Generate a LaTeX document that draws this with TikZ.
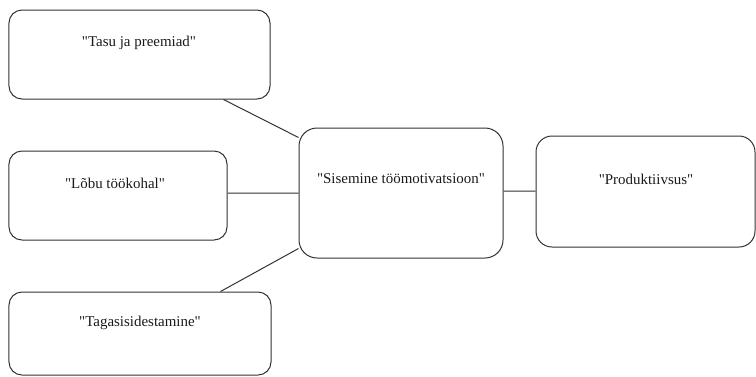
\documentclass[tikz,border=0pt]{standalone}
\usepackage{fontspec}
\newfontfamily\lserif{Liberation Serif}
\begin{document}
\begin{tikzpicture}[x=1bp,y=-1bp,
  boxnode/.style={draw=black!80, line width=1bp, rounded corners=13bp, inner sep=0pt, rectangle},
  txt/.style={font=\lserif\fontsize{15}{18}\selectfont, inner sep=0pt, text=black!90},
  conn/.style={draw=black!80, line width=1bp}]
\useasboundingbox (0,0) rectangle (756,376);
% boxes
\node[boxnode, minimum width=261bp, minimum height=89bp] (b1) at (139.5,54.5) {};
\node[boxnode, minimum width=218bp, minimum height=89bp] (b2) at (118,195.5) {};
\node[boxnode, minimum width=262bp, minimum height=83bp] (b3) at (140,333.5) {};
\node[boxnode, minimum width=204bp, minimum height=130bp, rounded corners=18bp] (c) at (401,193) {};
\node[boxnode, minimum width=219bp, minimum height=111bp, rounded corners=16bp] (r) at (645.5,191.5) {};
% texts
\node[txt] (t1) at (139,43) {"Tasu ja preemiad"};
\node[txt] (t2) at (115,183) {"Lõbu töökohal"};
\node[txt] (t3) at (140,323) {"Tagasisidestamine"};
\node[txt] (tc) at (401,179) {"Sisemine töömotivatsioon"};
\node[txt] (tr) at (646,179) {"Produktiivsus"};
% connectors
\draw[conn] ([xshift=-47bp]b1.south east) -- ([yshift=-10bp]c.north west);
\draw[conn] ([yshift=2.5bp]b2.east) -- (c.west);
\draw[conn] ([xshift=-51bp]b3.north east) -- ([yshift=10bp]c.south west);
\draw[conn] ([yshift=2bp]c.east) -- ([yshift=0.5bp]r.west);
\end{tikzpicture}
\end{document}
